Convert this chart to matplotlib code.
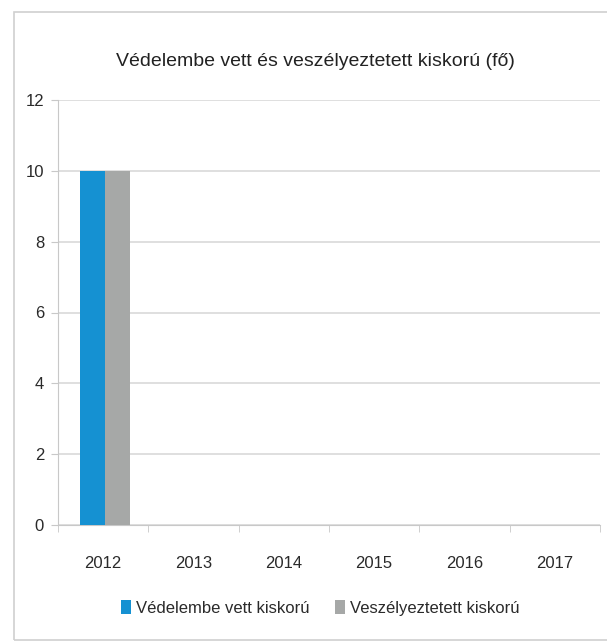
import matplotlib
matplotlib.use("Agg")
import matplotlib.pyplot as plt
import numpy as np
from matplotlib.patches import Rectangle

plt.rcParams['font.family'] = ['Liberation Sans Narrow', 'Liberation Sans', 'DejaVu Sans']

years = ['2012', '2013', '2014', '2015', '2016', '2017']
vedelembe = [10, 0, 0, 0, 0, 0]
veszelyeztetett = [10, 0, 0, 0, 0, 0]
series_names = ['Védelembe vett kiskorú', 'Veszélyeztetett kiskorú']
title = 'Védelembe vett és veszélyeztetett kiskorú (fő)'

fig = plt.figure(figsize=(6.07, 6.43), dpi=100)
fig.patches.append(Rectangle((14/607, 3/643), 600/607, 628/643, transform=fig.transFigure,
                             fill=False, edgecolor='#d0d0d0', linewidth=1.2))
ax = fig.add_axes([58/607, 118/643, 542/607, 425/643])

x = np.arange(len(years))
w = 0.28
ax.bar(x - w/2 + 0.02, vedelembe, w, color='#1591d2', label=series_names[0], zorder=3)
ax.bar(x + w/2 + 0.02, veszelyeztetett, w, color='#a6a8a7', label=series_names[1], zorder=3)

ax.set_xlim(-0.5, len(years) - 0.5)
ax.set_ylim(0, 12)
ax.set_yticks(range(0, 13, 2))
ax.yaxis.grid(True, color='#d9d9d9', linewidth=1.2, zorder=0)
ax.set_axisbelow(True)
for s in ['top', 'right']:
    ax.spines[s].set_visible(False)
ax.spines['left'].set_color('#c8c8c8')
ax.spines['bottom'].set_color('#c8c8c8')
ax.set_xticks(x)
ax.set_xticklabels(years, fontsize=12, color='#2a2a2a')
ax.tick_params(axis='x', length=0, pad=22)
ax.set_xticks(np.arange(-0.5, len(years), 1), minor=True)
ax.tick_params(axis='x', which='minor', length=5, color='#c8c8c8')
ax.tick_params(axis='y', labelsize=12, labelcolor='#2a2a2a', length=5, color='#c8c8c8', pad=5)

fig.text(315/607, 1 - 62/643, title, ha='center', va='center', fontsize=14, color='#222222')
fig.legend(loc='center', bbox_to_anchor=(320/607, 1 - 608/643), ncol=2, frameon=False,
           fontsize=12, handlelength=0.6, handleheight=0.9, handletextpad=0.3, columnspacing=1.5,
           labelcolor='#2a2a2a')

fig.savefig('out.png', dpi=100)
